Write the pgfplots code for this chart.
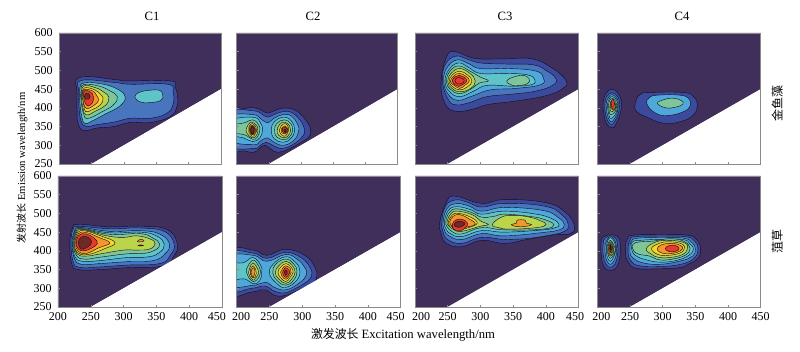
\documentclass[border=0pt]{standalone}
\usepackage{fontspec}
\setmainfont{Liberation Serif}
\newfontfamily\cjk{Noto Sans CJK SC}
\usepackage{pgfplots}
\pgfplotsset{compat=1.18}
\definecolor{c0}{HTML}{3F2F5A}
\definecolor{c1}{HTML}{3C4A9E}
\definecolor{c2}{HTML}{4876BE}
\definecolor{c3}{HTML}{4FA8DC}
\definecolor{c4}{HTML}{5EC4C8}
\definecolor{c5}{HTML}{7EC69A}
\definecolor{c6}{HTML}{BAD54A}
\definecolor{c7}{HTML}{F5D32E}
\definecolor{c8}{HTML}{F5952F}
\definecolor{c9}{HTML}{E63A2A}
\definecolor{c10}{HTML}{6E2B25}
\definecolor{ax}{HTML}{8A8A8A}
\pgfplotsset{
  lv/.style={fill=c#1,draw=black!70!c0,line width=.32pt,smooth cycle,tension=.75},
  bg/.style={fill=c0,draw=none},
  wh/.style={fill=white,draw=none},
  panel/.style={scale only axis,anchor=south west,xmin=200,xmax=450,ymin=250,ymax=600,
    height=98.25pt,axis on top,axis line style={ax,line width=.5pt},
    tick style={ax,line width=.4pt},tick align=inside,major tick length=1.8pt,
    xtick={200,250,300,350,400,450},ytick={250,300,350,400,450,500,550,600},
    xticklabels={},yticklabels={},xtick pos=bottom,ytick pos=left,
    tick label style={font=\fontsize{9}{10}\selectfont},
    /pgf/number format/assume math mode=true,
    /pgf/number format/1000 sep={},
    xticklabel style={yshift=-.5pt},yticklabel style={xshift=-1.2pt}},
  yl/.style={yticklabels={250,300,350,400,450,500,550,600}},
}
\newcommand{\back}{\addplot[bg] coordinates {(200,250)(250,250)(450,450)(450,600)(200,600)} -- cycle;}
\newcommand{\front}{\addplot[wh] coordinates {(250,250)(450,450)(450,250)} -- cycle;}
\begin{document}
\begin{tikzpicture}
\useasboundingbox (0,0) rectangle (600pt,264pt);
% ---- C1 top
\begin{axis}[panel,at={(44.25pt,141pt)},width=121.5pt,yl]
\back
\addplot[lv=1] coordinates {(228,439)(232,481)(289,475)(302,472)(372,472)(379,457)(383,430)(382,404)(372,377)(341,361)(310,361)(284,350)(258,346)(240,339)(230,354)(228,386)};
\addplot[lv=2] coordinates {(231,440)(234,473)(285,468)(310,463)(368,463)(376,442)(376,410)(366,385)(340,372)(310,372)(285,362)(258,355)(242,350)(234,365)(231,400)};
\addplot[lv=4] coordinates {(232,450)(238,466)(262,465)(288,452)(302,430)(294,405)(272,384)(250,364)(240,358)(235,378)(232,420)};
\addplot[lv=4] coordinates {(317,430)(325,442)(340,447)(355,447)(360,435)(357,420)(340,414)(325,416)};
\addplot[lv=5] coordinates {(234,445)(238,462)(260,459)(278,446)(290,430)(284,408)(267,390)(245,372)(238,384)(234,420)};
\addplot[lv=6] coordinates {(235,430)(238,458)(256,454)(270,441)(277,428)(272,407)(256,391)(242,381)(237,400)};
\addplot[lv=7] coordinates {(236,435)(239,453)(254,449)(264,436)(268,425)(264,408)(251,395)(241,390)(238,410)};
\addplot[lv=8] coordinates {(237,432)(239,449)(252,445)(258,433)(261,420)(255,408)(243,398)(238,412)};
\addplot[lv=9] coordinates {(238,432)(240,446)(249,442)(253,430)(252,415)(245,405)(240,415)};
\addplot[lv=10] coordinates {(239,430)(241,438)(246,438)(248,430)(246,423)(241,423)};
\front
\end{axis}
% ---- C2 top
\begin{axis}[panel,at={(177.5pt,141pt)},width=120.75pt]
\back
\addplot[lv=1] coordinates {(190,392)(212,398)(226,401)(240,392)(248,386)(258,392)(272,399)(288,396)(300,382)(312,355)(315,337)(312,322)(302,310)(288,296)(270,283)(258,284)(244,300)(235,290)(226,281)(212,285)(190,293)};
\addplot[lv=2] coordinates {(190,385)(226,392)(240,382)(248,375)(258,382)(272,390)(285,388)(297,370)(305,345)(303,325)(290,305)(272,292)(258,298)(246,308)(235,298)(226,291)(190,302)};
\addplot[lv=3] coordinates {(190,375)(225,382)(238,370)(248,360)(258,372)(272,382)(285,378)(295,355)(296,335)(288,312)(272,300)(258,308)(247,320)(236,310)(226,302)(190,315)};
\addplot[lv=4] coordinates {(190,365)(225,375)(237,360)(240,340)(236,320)(225,310)(210,320)(190,330)};
\addplot[lv=4] coordinates {(272,375)(285,365)(290,340)(284,318)(272,308)(258,318)(254,340)(258,362)};
\addplot[lv=5] coordinates {(190,352)(212,360)(225,368)(234,355)(236,340)(232,322)(225,316)(212,328)(190,335)};
\addplot[lv=5] coordinates {(274,368)(284,358)(287,340)(282,322)(274,315)(262,322)(259,340)(262,358)};
\addplot[lv=6] coordinates {(224,362)(232,350)(233,338)(230,325)(224,320)(216,332)(215,345)(218,355)};
\addplot[lv=6] coordinates {(274,362)(282,352)(284,340)(280,326)(274,320)(265,327)(263,340)(266,354)};
\addplot[lv=7] coordinates {(224,358)(230,348)(231,338)(228,328)(224,324)(219,335)(219,348)};
\addplot[lv=7] coordinates {(275,358)(280,349)(281,340)(278,330)(274,324)(268,331)(266,340)(269,351)};
\addplot[lv=8] coordinates {(224,354)(229,345)(229,335)(224,328)(220,338)(220,347)};
\addplot[lv=8] coordinates {(275,352)(279,346)(279,338)(275,330)(270,334)(269,342)(271,348)};
\addplot[lv=9] coordinates {(224,352)(228,343)(227,333)(224,330)(221,340)};
\addplot[lv=9] coordinates {(275,349)(278,344)(278,336)(274,332)(271,338)(271,345)};
\addplot[lv=10] coordinates {(224,350)(227,342)(226,333)(224,331)(222,340)};
\addplot[lv=10] coordinates {(275,344)(277,340)(275,335)(273,340)};
\front
\end{axis}
% ---- C3 top
\begin{axis}[panel,at={(311.25pt,141pt)},width=122.8pt]
\back
\addplot[lv=1] coordinates {(240,470)(248,535)(261,550)(292,532)(337,531)(378,531)(408,508)(431,472)(424,450)(399,432)(353,418)(312,409)(287,396)(261,391)(245,414)};
\addplot[lv=2] coordinates {(242,470)(246,515)(262,538)(280,530)(300,520)(340,517)(380,515)(400,500)(415,478)(410,460)(385,445)(350,437)(310,430)(285,415)(262,408)(250,425)};
\addplot[lv=3] coordinates {(244,470)(248,505)(264,528)(282,518)(300,505)(345,505)(385,498)(396,480)(392,462)(355,452)(315,448)(288,432)(265,420)(250,438)};
\addplot[lv=4] coordinates {(246,470)(251,500)(266,520)(282,508)(300,492)(340,492)(372,488)(383,475)(378,462)(350,458)(310,460)(290,445)(268,430)(252,445)};
\addplot[lv=5] coordinates {(248,470)(253,497)(267,512)(285,497)(300,482)(312,472)(298,466)(285,450)(268,438)(254,450)};
\addplot[lv=5] coordinates {(340,472)(350,482)(365,487)(374,478)(372,465)(355,459)(345,463)};
\addplot[lv=6] coordinates {(250,470)(255,492)(268,505)(283,493)(292,472)(285,452)(268,443)(256,453)};
\addplot[lv=7] coordinates {(252,470)(257,488)(268,498)(280,488)(287,472)(280,456)(268,448)(258,456)};
\addplot[lv=8] coordinates {(254,470)(259,485)(268,492)(278,484)(283,472)(276,460)(268,452)(260,460)};
\addplot[lv=9] coordinates {(257,472)(261,483)(268,487)(275,482)(279,472)(273,462)(267,457)(261,462)};
\addplot[lv=9] coordinates {(261,472)(264,480)(268,481)(273,478)(275,471)(270,464)(265,464)};
\front
\end{axis}
% ---- C4 top
\begin{axis}[panel,at={(448pt,141pt)},width=122.5pt]
\back
\addplot[lv=1] coordinates {(223,450)(232,438)(237,415)(235,385)(228,355)(222,347)(214,358)(210,385)(209,415)(214,440)};
\addplot[lv=2] coordinates {(223,440)(231,430)(234,412)(232,385)(226,362)(221,356)(216,365)(212,390)(212,418)(216,433)};
\addplot[lv=3] coordinates {(223,435)(230,425)(232,410)(230,385)(225,368)(221,363)(217,372)(214,395)(214,418)(218,430)};
\addplot[lv=4] coordinates {(223,430)(229,422)(231,408)(229,388)(224,375)(220,372)(218,380)(216,398)(216,415)(219,426)};
\addplot[lv=5] coordinates {(223,425)(228,418)(230,406)(228,392)(223,383)(220,382)(218,392)(217,405)(219,420)};
\addplot[lv=6] coordinates {(223,420)(227,414)(229,404)(227,395)(223,390)(220,392)(219,402)(220,414)};
\addplot[lv=7] coordinates {(223,416)(227,410)(228,402)(226,396)(223,395)(220,400)(220,410)};
\addplot[lv=8] coordinates {(224,414)(227,408)(227,400)(224,396)(221,402)(221,410)};
\addplot[lv=9] coordinates {(224,424)(226,412)(225,402)(222,404)(221,414)};
\addplot[lv=1] coordinates {(258,412)(265,435)(281,441)(332,441)(347,430)(353,408)(347,381)(327,363)(301,359)(276,375)(260,390)};
\addplot[lv=3] coordinates {(276,410)(280,428)(293,434)(325,434)(340,425)(342,405)(332,390)(310,380)(290,385)};
\addplot[lv=5] coordinates {(292,412)(302,422)(315,426)(328,420)(331,410)(320,402)(305,400)};
\front
\end{axis}
% ---- C1 bottom
\begin{axis}[panel,at={(43.5pt,33.75pt)},width=123pt,yl,xticklabels={200,250,300,350,400,450\kern7.5pt}]
\back
\addplot[lv=1] coordinates {(218,420)(222,460)(232,471)(279,464)(325,466)(366,457)(382,418)(376,385)(361,360)(305,355)(264,350)(231,350)(221,366)};
\addplot[lv=2] coordinates {(220,420)(223,457)(233,465)(280,459)(325,461)(362,452)(377,418)(371,388)(355,366)(305,362)(264,357)(233,356)(223,372)};
\addplot[lv=3] coordinates {(222,420)(225,452)(235,462)(280,452)(325,454)(355,445)(370,418)(363,392)(345,374)(305,371)(264,366)(236,364)(225,380)};
\addplot[lv=4] coordinates {(223,420)(227,456)(236,460)(280,448)(325,450)(350,440)(362,418)(355,396)(338,384)(305,382)(264,374)(238,372)(226,384)};
\addplot[lv=5] coordinates {(224,420)(228,454)(238,458)(280,444)(325,446)(345,434)(355,418)(348,402)(330,393)(305,392)(264,383)(241,378)(228,388)};
\addplot[lv=6] coordinates {(225,420)(229,452)(240,456)(275,440)(300,436)(320,440)(340,432)(348,420)(340,405)(320,402)(300,402)(265,392)(243,386)(229,392)};
\addplot[lv=7] coordinates {(226,420)(230,449)(242,453)(265,440)(287,422)(270,405)(245,390)(229,396)};
\addplot[lv=8] coordinates {(227,422)(231,446)(243,449)(262,436)(279,421)(262,408)(243,393)(230,400)};
\addplot[lv=9] coordinates {(228,422)(232,442)(243,445)(255,434)(260,420)(252,408)(240,400)(231,405)};
\addplot[lv=10] coordinates {(231,422)(235,436)(243,438)(250,430)(250,418)(243,408)(235,405)};
\addplot[lv=8] coordinates {(321,425)(326,431)(331,427)(326,424)};
\addplot[lv=10] coordinates {(322,414)(326,416)(330,414)(326,413)};
\front
\end{axis}
% ---- C2 bottom
\begin{axis}[panel,at={(177.5pt,33.75pt)},width=123pt,xticklabels={\kern6.75pt 200,250,300,350,400,450\kern7.5pt}]
\back
\addplot[lv=1] coordinates {(190,397)(225,402)(246,388)(274,404)(304,388)(319,357)(322,330)(314,312)(294,295)(274,281)(258,281)(243,296)(223,290)(190,288)};
\addplot[lv=2] coordinates {(190,390)(225,394)(246,380)(274,396)(298,382)(312,355)(314,332)(305,315)(290,300)(274,288)(258,292)(243,306)(223,300)(190,298)};
\addplot[lv=3] coordinates {(190,382)(225,388)(246,372)(274,390)(292,378)(304,355)(306,335)(296,315)(276,296)(258,302)(244,316)(225,308)(190,310)};
\addplot[lv=4] coordinates {(190,365)(210,368)(225,382)(237,360)(238,340)(235,320)(225,312)(212,325)(190,325)};
\addplot[lv=4] coordinates {(274,384)(288,372)(296,350)(292,322)(274,302)(260,315)(250,340)(256,365)};
\addplot[lv=5] coordinates {(216,355)(225,375)(234,358)(236,340)(232,325)(225,318)(218,330)(215,342)};
\addplot[lv=5] coordinates {(275,378)(287,365)(292,345)(287,322)(275,308)(262,320)(255,342)(260,365)};
\addplot[lv=6] coordinates {(220,355)(225,367)(232,352)(233,338)(228,326)(225,322)(220,332)(218,342)};
\addplot[lv=6] coordinates {(275,372)(285,360)(289,343)(284,325)(275,313)(264,325)(259,342)(264,360)};
\addplot[lv=7] coordinates {(225,360)(229,350)(230,340)(228,330)(225,328)(221,338)(221,350)};
\addplot[lv=7] coordinates {(275,366)(283,356)(286,343)(281,328)(275,318)(267,328)(263,343)(267,356)};
\addplot[lv=8] coordinates {(225,355)(228,345)(225,330)(222,342)};
\addplot[lv=8] coordinates {(275,360)(282,352)(283,342)(279,330)(275,324)(269,332)(267,343)(270,353)};
\addplot[lv=9] coordinates {(275,355)(280,348)(281,342)(278,333)(275,329)(271,335)(270,343)(272,350)};
\addplot[lv=10] coordinates {(275,349)(277,345)(277,340)(275,335)(273,340)(273,345)};
\front
\end{axis}
% ---- C3 bottom
\begin{axis}[panel,at={(311.25pt,33.75pt)},width=122.8pt,xticklabels={\kern9pt 200,250,300,350,400,450\kern5.5pt}]
\back
\addplot[lv=1] coordinates {(238,478)(248,530)(261,546)(302,527)(337,537)(399,529)(429,504)(443,469)(437,446)(409,442)(370,430)(337,420)(302,428)(271,411)(248,420)(240,446)};
\addplot[lv=2] coordinates {(241,478)(247,520)(262,536)(280,530)(302,517)(337,527)(399,519)(425,495)(434,470)(428,452)(400,440)(365,432)(337,430)(302,436)(271,420)(250,430)(243,450)};
\addplot[lv=3] coordinates {(243,478)(249,513)(263,526)(282,520)(302,506)(337,516)(395,508)(418,490)(428,470)(420,456)(395,449)(337,440)(302,446)(271,430)(252,440)(245,455)};
\addplot[lv=4] coordinates {(245,478)(251,508)(264,518)(285,510)(302,498)(337,506)(385,498)(410,485)(420,470)(414,462)(395,456)(337,450)(302,454)(271,438)(254,446)(247,460)};
\addplot[lv=5] coordinates {(247,478)(253,504)(265,512)(287,502)(302,490)(320,492)(337,498)(375,492)(395,485)(412,470)(395,458)(337,456)(302,462)(271,445)(256,452)(249,465)};
\addplot[lv=6] coordinates {(249,478)(255,500)(266,506)(288,496)(300,480)(312,470)(300,466)(271,452)(258,458)(251,468)};
\addplot[lv=6] coordinates {(318,470)(332,490)(350,495)(375,490)(392,480)(400,470)(385,462)(345,458)(328,462)};
\addplot[lv=7] coordinates {(251,478)(257,496)(267,500)(285,490)(295,475)(285,464)(270,458)(258,462)(253,468)};
\addplot[lv=8] coordinates {(253,478)(258,492)(268,497)(282,486)(292,472)(280,464)(268,462)(258,464)(255,470)};
\addplot[lv=8] coordinates {(347,470)(355,474)(356,482)(368,482)(370,474)(378,470)(368,465)(355,465)};
\addplot[lv=9] coordinates {(257,470)(262,482)(272,484)(280,474)(277,462)(268,453)(259,458)};
\addplot[lv=10] coordinates {(260,470)(264,478)(272,478)(276,472)(270,464)(263,464)};
\front
\end{axis}
% ---- C4 bottom
\begin{axis}[panel,at={(448pt,33.75pt)},width=122.5pt,xticklabels={\kern6pt 200,250,300,350,400,450}]
\back
\addplot[lv=1] coordinates {(220,443)(231,438)(235,420)(235,390)(230,358)(220,348)(210,358)(206,390)(206,425)(210,438)};
\addplot[lv=2] coordinates {(220,440)(228,434)(231,415)(231,390)(227,365)(220,356)(213,365)(209,390)(209,420)(212,434)};
\addplot[lv=3] coordinates {(220,438)(226,430)(229,412)(229,390)(225,372)(220,364)(215,372)(212,392)(212,418)(215,430)};
\addplot[lv=4] coordinates {(220,435)(225,428)(228,410)(227,392)(224,380)(220,372)(216,380)(214,395)(214,415)(216,428)};
\addplot[lv=5] coordinates {(220,428)(224,420)(227,408)(226,392)(223,385)(220,380)(217,387)(215,398)(215,412)(217,422)};
\addplot[lv=6] coordinates {(220,424)(224,416)(225,406)(225,394)(222,388)(220,386)(217,392)(216,402)(217,416)};
\addplot[lv=7] coordinates {(220,421)(223,414)(224,404)(223,395)(220,390)(218,396)(217,404)(218,414)};
\addplot[lv=8] coordinates {(220,418)(223,412)(223,404)(222,396)(220,394)(218,400)(218,410)};
\addplot[lv=9] coordinates {(220,416)(222,410)(222,402)(220,398)(219,404)(219,412)};
\addplot[lv=10] coordinates {(220,412)(221,406)(220,402)(219,406)};
\addplot[lv=1] coordinates {(243,410)(246,432)(256,442)(300,443)(338,442)(352,430)(358,405)(354,380)(340,365)(325,355)(290,352)(260,353)(248,368)(243,390)};
\addplot[lv=2] coordinates {(247,410)(250,428)(258,438)(300,439)(335,438)(349,426)(354,405)(349,382)(330,365)(295,358)(265,360)(252,372)(247,392)};
\addplot[lv=3] coordinates {(250,410)(252,425)(262,434)(300,435)(332,434)(345,422)(350,405)(345,385)(325,372)(295,364)(270,368)(255,380)(250,395)};
\addplot[lv=4] coordinates {(252,410)(254,424)(265,428)(300,431)(332,430)(342,418)(347,405)(340,388)(320,374)(295,370)(275,376)(258,388)};
\addplot[lv=5] coordinates {(254,406)(255,418)(265,424)(285,426)(310,432)(332,426)(342,406)(334,388)(315,378)(295,376)(280,386)(262,392)};
\addplot[lv=6] coordinates {(275,406)(290,424)(312,428)(334,421)(338,406)(330,390)(310,382)(293,383)(282,392)};
\addplot[lv=7] coordinates {(283,406)(295,420)(312,424)(330,418)(333,406)(326,394)(308,388)(293,390)};
\addplot[lv=8] coordinates {(292,406)(298,416)(314,420)(328,414)(330,405)(322,396)(308,392)(296,396)};
\addplot[lv=9] coordinates {(304,406)(310,414)(320,414)(325,406)(320,399)(310,398)};
\front
\end{axis}
% ---- labels
\node[font=\fontsize{9.5}{10}\selectfont] at (114pt,252pt) {C1};
\node[font=\fontsize{9.5}{10}\selectfont] at (234.75pt,252pt) {C2};
\node[font=\fontsize{9.5}{10}\selectfont] at (378.75pt,252pt) {C3};
\node[font=\fontsize{9.5}{10}\selectfont] at (511.5pt,252pt) {C4};
\node[rotate=90,font=\fontsize{8}{10}\selectfont] at (16.5pt,138pt) {{\fontsize{7.5}{10}\selectfont\cjk 发射波长} Emission wavelength/nm};
\node[font=\fontsize{9.5}{10}\selectfont] at (302.25pt,12.5pt) {{\fontsize{8.9}{10}\selectfont\cjk 激发波长} Excitation wavelength/nm};
\node[rotate=90,font=\fontsize{9}{10}\selectfont\cjk] at (583pt,186pt) {金鱼藻};
\node[rotate=90,font=\fontsize{9}{10}\selectfont\cjk] at (583pt,83pt) {菹草};
\end{tikzpicture}
\end{document}
